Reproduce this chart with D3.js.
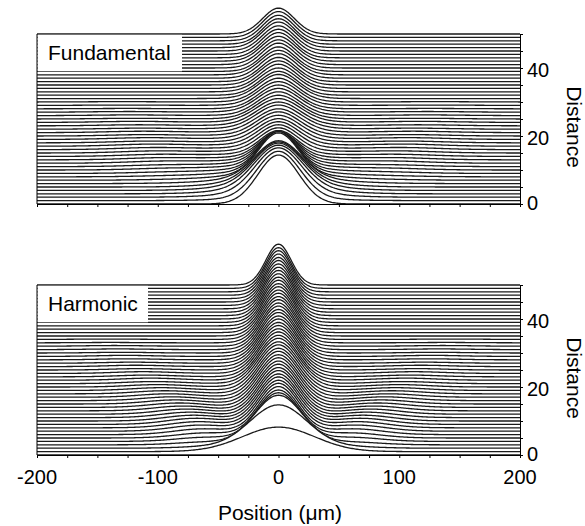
<!DOCTYPE html>
<html>
<head>
<meta charset="utf-8">
<script src="https://cdn.jsdelivr.net/npm/d3@7"></script>
<style>
  body { margin: 0; background: #fff; }
  text { font-family: "Liberation Sans", Arial, sans-serif; fill: #000; }
</style>
</head>
<body>
<svg id="chart" width="585" height="526"></svg>
<script>
// Propagation distance of each measured profile (trace offset on the right axis)
const distance = [0,1,2,3,4,5,6,7,8,9,10,11,12,13,14,15,16,17,18,19,20,21,22,23,24,25,
  26,27,28,29,30,31,32,33,34,35,36,37,38,39,40,41,42,43,44,45,46,47,48,49,50];

// Fundamental beam: central peak height (distance units), rms width (µm),
// broad pedestal height, side-lobe height and side-lobe position (µm)
const fundPeak = [14.4,13.7,13.0,12.3,11.6,10.9,10.2,11.6,11.2,10.3,
  9.4,8.6,7.9,7.2,6.6,6.5,6.5,6.5,6.5,6.6,
  6.6,6.6,6.7,6.7,6.7,6.8,6.8,6.8,6.9,6.9,
  6.9,7.0,7.0,7.0,7.1,7.1,7.1,7.2,7.2,7.2,
  7.3,7.3,7.3,7.4,7.4,7.4,7.5,7.5,7.5,7.6,7.6];
const fundWidth = [17,18,19,19.5,19.5,19,18.5,16,15.5,15,
  15,15,15,15,15,15.5,16,16.5,17,17.5,
  17.5,18,18,18,18,17.5,17,17,16.5,16.5,
  16,16,15.5,15.5,15,15,14.5,14.5,14.5,14,
  14,14,14,13.5,13.5,13.5,13.5,13,13,13,13];
const fundPedestal = [0,0.8,1.5,2.0,2.3,2.4,2.4,2.3,2.1,1.9,
  1.7,1.5,1.3,1.1,1.0,0.9,0.8,0.7,0.6,0.5,
  0.5,0.4,0.4,0.3,0.3,0.2,0.2,0.2,0.1,0.1,
  0.1,0.1,0,0,0,0,0,0,0,0,
  0,0,0,0,0,0,0,0,0,0,0];
const fundLobe = [0,0,0,0,0,0,0.1,0.2,0.3,0.4,
  0.5,0.5,0.6,0.6,0.6,0.6,0.6,0.6,0.5,0.5,
  0.4,0.4,0.3,0.3,0.3,0.2,0.2,0.2,0.1,0.1,
  0.1,0,0,0,0,0,0,0,0,0,
  0,0,0,0,0,0,0,0,0,0,0];
const fundLobePos = [80,80,80,80,80,80,82,84,86,88,
  90,92,94,96,98,100,102,104,106,108,
  110,112,114,116,118,120,122,124,126,128,
  130,130,130,130,130,130,130,130,130,130,
  130,130,130,130,130,130,130,130,130,130,130];

// Second-harmonic beam, same quantities
const harmPeak = [0,7.2,12.7,14.5,14.2,14.0,14.0,14.0,13.9,13.9,
  13.8,13.8,13.7,13.7,13.6,13.6,13.5,13.5,13.4,13.4,
  13.3,13.3,13.2,13.2,13.1,13.1,13.0,13.0,12.9,12.9,
  12.8,12.8,12.7,12.7,12.6,12.6,12.5,12.5,12.4,12.4,
  12.3,12.3,12.3,12.2,12.2,12.2,12.1,12.1,12.1,12.0,12.0];
const harmWidth = [30,30,24,20,18,17,16.5,16.5,16.5,16.5,
  16.5,16.5,16.5,16.5,16.5,16.5,16.5,16.5,16.5,16.5,
  16.5,16.3,16,15.8,15.6,15.4,15.2,15,14.8,14.6,
  14.4,14.2,14,13.8,13.6,13.4,13.2,13,12.8,12.6,
  12.4,12.2,12,11.8,11.6,11.4,11.2,11,10.8,10.6,10.5];
const harmPedestal = [0,0,0,0,0,0,0,0,0,0,
  0,0,0,0,0,0,0,0,0,0,
  0,0,0,0,0,0,0,0,0,0,
  0,0,0,0,0,0,0,0,0,0,
  0,0,0,0,0,0,0,0,0,0,0];
const harmLobe = [0,0,0.4,0.8,1.2,1.5,1.7,1.8,1.8,1.8,
  1.7,1.6,1.5,1.4,1.3,1.2,1.1,1.0,0.9,0.8,
  0.7,0.6,0.6,0.5,0.5,0.4,0.4,0.3,0.3,0.3,
  0.2,0.2,0.2,0.1,0.1,0,0,0,0,0,
  0,0,0,0,0,0,0,0,0,0,0];
const harmLobePos = [60,60,60,60,60,60,62,64,66,68,
  70,73,76,79,82,85,88,91,94,97,
  100,103,106,109,112,115,118,121,124,127,
  130,133,136,139,142,145,145,145,145,145,
  145,145,145,145,145,145,145,145,145,145,145];

// Axis ticks
const positionTicks = [-200,-100,0,100,200];
const distanceTicks = [0,20,40];

const svg = d3.select("#chart");

const x = d3.scaleLinear().domain([-200, 200]).range([37, 520]);
const samples = d3.range(-200, 200.5, 1);

function gauss(u, c, s) { const t = (u - c) / s; return Math.exp(-0.5 * t * t); }

// Transverse profile of trace i built from its peak, width, pedestal and side lobes
function makeProfile(set, i) {
  return u => set.peak[i] * gauss(u, 0, set.width[i])
    + set.pedestal[i] * gauss(u, 0, set.pedWidth)
    + set.lobe[i] * (gauss(u, -set.lobePos[i], set.lobeWidth) + gauss(u, set.lobePos[i], set.lobeWidth));
}

function drawPanel(set, top, bottom, label, boxRight, showTickLabels) {
  const y = d3.scaleLinear().domain([0, 50]).range([bottom, top]);
  const g = svg.append("g");

  // waterfall: back traces first, each front trace masks what lies behind it
  for (let k = distance.length - 1; k >= 0; k--) {
    const d = distance[k];
    const f = makeProfile(set, k);
    const pts = samples.map(u => [u, f(u)]);
    g.append("path")
      .attr("d", d3.area().x(p => x(p[0])).y0(y(d)).y1(p => y(d + p[1]))(pts))
      .attr("fill", "#fff");
    g.append("path")
      .attr("d", d3.line().x(p => x(p[0])).y(p => y(d + p[1]))(pts))
      .attr("fill", "none")
      .attr("stroke", "#1a1a1a")
      .attr("stroke-width", 1.3);
  }

  // label box
  g.append("rect")
    .attr("x", x(-200) + 0.5).attr("y", y(50) + 0.8)
    .attr("width", boxRight - x(-200) - 0.5).attr("height", 36.5)
    .attr("fill", "#fff");
  g.append("text")
    .attr("x", 48).attr("y", y(50) + 26)
    .attr("font-size", 21)
    .text(label);

  // left frame line
  g.append("line")
    .attr("x1", x(-200)).attr("x2", x(-200))
    .attr("y1", y(50)).attr("y2", y(0))
    .attr("stroke", "#000");

  // bottom axis
  const xa = d3.axisBottom(x).tickValues(d3.range(-200, 201, 25)).tickSize(3).tickFormat("");
  g.append("g").attr("transform", `translate(0,${y(0)})`).call(xa)
    .call(s => s.select(".domain").attr("stroke", "#000"));
  if (showTickLabels) {
    g.append("g").selectAll("text").data(positionTicks).join("text")
      .attr("x", v => x(v)).attr("y", y(0) + 29)
      .attr("text-anchor", "middle").attr("font-size", 20)
      .text(v => v);
  }

  // right axis
  const ya = d3.axisRight(y).tickValues(d3.range(0, 51, 5)).tickSize(3).tickFormat("");
  g.append("g").attr("transform", `translate(${x(200)},0)`).call(ya)
    .call(s => s.select(".domain").attr("stroke", "#000"));
  g.append("g").selectAll("text").data(distanceTicks).join("text")
    .attr("x", x(200) + 7).attr("y", v => y(v) + (v === 0 ? 6 : 9))
    .attr("font-size", 20)
    .text(v => v);

  g.append("text")
    .attr("transform", `translate(567,${(y(0) + y(50)) / 2 + 8}) rotate(90)`)
    .attr("text-anchor", "middle").attr("font-size", 21)
    .text("Distance");
}

drawPanel({ peak: fundPeak, width: fundWidth, pedestal: fundPedestal, pedWidth: 38,
            lobe: fundLobe, lobePos: fundLobePos, lobeWidth: 30 },
          34, 204, "Fundamental", 182, false);
drawPanel({ peak: harmPeak, width: harmWidth, pedestal: harmPedestal, pedWidth: 38,
            lobe: harmLobe, lobePos: harmLobePos, lobeWidth: 24 },
          285, 455, "Harmonic", 148, true);

svg.append("text")
  .attr("x", 280).attr("y", 520)
  .attr("text-anchor", "middle").attr("font-size", 21)
  .text("Position (\u03bcm)");
</script>
</body>
</html>
